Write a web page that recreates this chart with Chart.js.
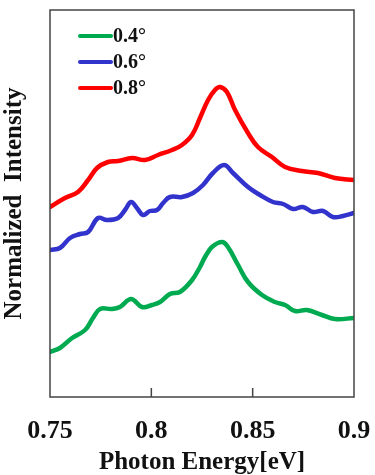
<!DOCTYPE html>
<html>
<head>
<meta charset="utf-8">
<script src="https://cdn.jsdelivr.net/npm/chart.js@4.4.1/dist/chart.umd.min.js"></script>
<style>
  html, body { margin: 0; padding: 0; background: #fff; }
  #wrap { width: 375px; height: 475px; }
</style>
</head>
<body>
<div id="wrap"><canvas id="c"></canvas></div>
<script>
// intensity in arbitrary (offset) units
const seriesLabels = ["0.4°", "0.6°", "0.8°"];

const greenE = [0.75, 0.7549, 0.7609, 0.7673, 0.7712, 0.7747, 0.7806, 0.7845, 0.79, 0.7954, 0.8003, 0.8043, 0.8092, 0.8141, 0.8201, 0.824, 0.8265, 0.8299, 0.8349, 0.8378, 0.8428, 0.8477, 0.8546, 0.861, 0.866, 0.8709, 0.8768, 0.8842, 0.8906, 0.9];
const greenI = [0.45, 0.49, 0.59, 0.67, 0.79, 0.88, 0.88, 0.90, 0.98, 0.90, 0.92, 0.95, 1.03, 1.05, 1.17, 1.30, 1.40, 1.50, 1.55, 1.50, 1.32, 1.15, 1.02, 0.95, 0.92, 0.86, 0.87, 0.82, 0.78, 0.79];

const blueE = [0.75, 0.7549, 0.7599, 0.7648, 0.7688, 0.7737, 0.7781, 0.7836, 0.787, 0.79, 0.7929, 0.7959, 0.7993, 0.8028, 0.8058, 0.8092, 0.8151, 0.8206, 0.8255, 0.8304, 0.8359, 0.8403, 0.8477, 0.8536, 0.86, 0.865, 0.8699, 0.8748, 0.8798, 0.8847, 0.8896, 0.8946, 0.9];
const blueI = [1.47, 1.49, 1.59, 1.63, 1.65, 1.79, 1.77, 1.79, 1.87, 1.95, 1.89, 1.82, 1.86, 1.87, 1.94, 2.00, 2.00, 2.04, 2.12, 2.24, 2.32, 2.24, 2.10, 2.02, 1.95, 1.93, 1.88, 1.90, 1.85, 1.86, 1.80, 1.81, 1.84];

const redE = [0.75, 0.7574, 0.7638, 0.7688, 0.7732, 0.7786, 0.7836, 0.7905, 0.7969, 0.8033, 0.8102, 0.8151, 0.8201, 0.824, 0.828, 0.8314, 0.8339, 0.8373, 0.8413, 0.8477, 0.8526, 0.8595, 0.866, 0.8743, 0.8822, 0.8906, 0.9];
const redI = [1.90, 1.99, 2.05, 2.17, 2.29, 2.35, 2.36, 2.39, 2.37, 2.42, 2.47, 2.52, 2.62, 2.79, 2.97, 3.07, 3.10, 3.05, 2.87, 2.64, 2.50, 2.40, 2.30, 2.26, 2.24, 2.19, 2.17];

const xTicks = [0.75, 0.8, 0.85, 0.9];

const colors = ["rgb(0,170,80)", "rgb(50,50,205)", "rgb(255,0,0)"];
const serif = "'Liberation Serif', 'Times New Roman', serif";

const pts = (e, v) => e.map((x, i) => ({ x: x, y: v[i] }));

// box around the plot + inward tick marks
const frame = {
  id: "frame",
  afterDatasetsDraw(chart) {
    const { ctx, chartArea: a, scales } = chart;
    ctx.save();
    ctx.strokeStyle = "#444";
    ctx.lineWidth = 1.5;
    ctx.strokeRect(a.left, a.top, a.right - a.left, a.bottom - a.top);
    scales.x.ticks.forEach(t => {
      const px = scales.x.getPixelForValue(t.value);
      if (px <= a.left + 1 || px >= a.right - 1) return;
      ctx.beginPath();
      ctx.moveTo(px, a.bottom);
      ctx.lineTo(px, a.bottom - 9);
      ctx.stroke();
    });
    ctx.restore();
  }
};

// legend drawn inside the plot, upper left
const innerLegend = {
  id: "innerLegend",
  afterDraw(chart) {
    const { ctx, chartArea: a } = chart;
    ctx.save();
    ctx.font = "bold 20px " + serif;
    ctx.textBaseline = "middle";
    chart.data.datasets.forEach((ds, i) => {
      const y = a.top + 26 + i * 26;
      const x0 = a.left + 30;
      ctx.strokeStyle = ds.borderColor;
      ctx.lineWidth = 4;
      ctx.lineCap = "round";
      ctx.beginPath();
      ctx.moveTo(x0, y);
      ctx.lineTo(x0 + 31, y);
      ctx.stroke();
      ctx.fillStyle = "#111";
      ctx.fillText(ds.label, x0 + 33, y + 1);
    });
    ctx.restore();
  }
};

new Chart(document.getElementById("c"), {
  type: "line",
  data: {
    datasets: [
      { label: seriesLabels[0], data: pts(greenE, greenI), borderColor: colors[0] },
      { label: seriesLabels[1], data: pts(blueE, blueI), borderColor: colors[1] },
      { label: seriesLabels[2], data: pts(redE, redI), borderColor: colors[2] }
    ]
  },
  options: {
    responsive: true,
    maintainAspectRatio: false,
    animation: false,
    layout: { padding: { top: 10, right: 0, left: 0, bottom: 0 } },
    elements: {
      line: { borderWidth: 4.5, tension: 0.4, borderCapStyle: "round", borderJoinStyle: "round" },
      point: { radius: 0 }
    },
    scales: {
      x: {
        type: "linear",
        min: 0.75,
        max: 0.9,
        afterBuildTicks: s => { s.ticks = xTicks.map(v => ({ value: v })); },
        afterFit: s => { s.height = 78; s.paddingRight = 21; },
        grid: { display: false, drawTicks: false },
        border: { display: false },
        ticks: {
          padding: 19,
          color: "#111",
          font: { family: serif, size: 26, weight: "bold" },
          callback: v => String(Number(v.toFixed(2)))
        },
        title: {
          display: true,
          text: "Photon Energy[eV]",
          color: "#111",
          font: { family: serif, size: 25, weight: "bold", lineHeight: 1 },
          padding: { top: 7, bottom: 0 }
        }
      },
      y: {
        min: 0,
        max: 3.87,
        afterFit: s => { s.width = 50; },
        grid: { display: false, drawTicks: false },
        border: { display: false },
        ticks: { display: false },
        title: {
          display: true,
          text: "Normalized  Intensity",
          color: "#111",
          font: { family: serif, size: 25, weight: "bold" },
          padding: { top: 0, bottom: 0 }
        }
      }
    },
    plugins: {
      legend: { display: false },
      tooltip: { enabled: false }
    }
  },
  plugins: [frame, innerLegend]
});
</script>
</body>
</html>
